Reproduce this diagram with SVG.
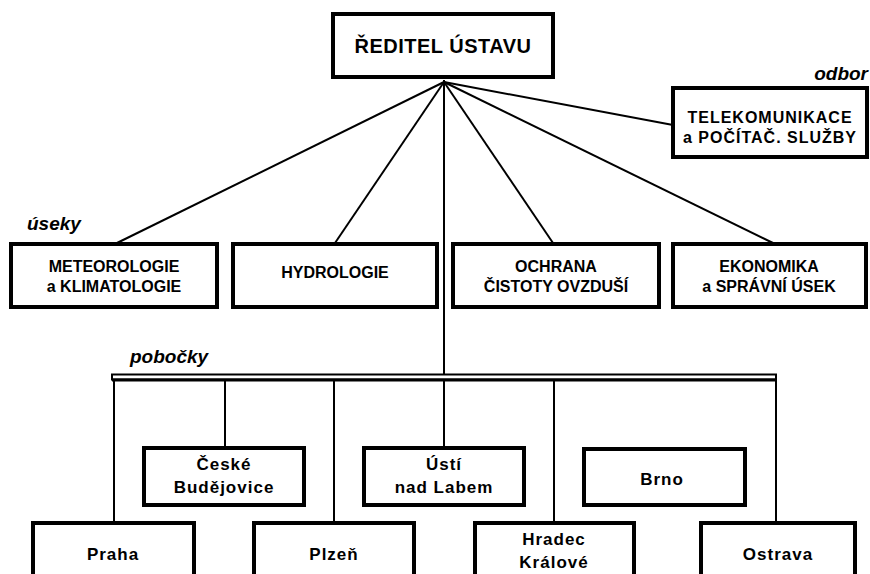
<svg xmlns="http://www.w3.org/2000/svg" width="870" height="574" viewBox="0 0 870 574">
  <style>
    .box { fill: #fff; stroke: #000; stroke-width: 4; }
    .ln { stroke: #000; stroke-width: 2; fill: none; }
    .t { font-family: "Liberation Sans", Arial, sans-serif; font-weight: bold; fill: #000; text-anchor: middle; }
    .head { font-size: 20px; letter-spacing: 0.5px; }
    .sec { font-size: 16px; }
    .wide { letter-spacing: 1px; }
    .br { font-size: 17px; letter-spacing: 1px; }
    .lbl { font-family: "Liberation Sans", Arial, sans-serif; font-weight: bold; font-style: italic; font-size: 19px; fill: #000; }
  </style>
  <rect width="870" height="574" fill="#fff"/>

  <!-- connectors -->
  <g id="connectors">
    <line class="ln" x1="444" y1="82" x2="117" y2="243"/>
    <line class="ln" x1="444" y1="82" x2="335" y2="243"/>
    <line class="ln" x1="444" y1="82" x2="553" y2="243"/>
    <line class="ln" x1="444" y1="82" x2="773" y2="243"/>
    <line class="ln" x1="444" y1="82" x2="673" y2="125"/>
    <line class="ln" x1="444" y1="80" x2="444" y2="447"/>
    <!-- branch bus -->
    <rect x="112" y="374.5" width="664" height="5" fill="#fff" stroke="#000" stroke-width="2"/>
    <line x1="112" y1="380" x2="777" y2="380" stroke="#000" stroke-width="3"/>
    <line class="ln" x1="114" y1="381" x2="114" y2="522"/>
    <line class="ln" x1="225" y1="381" x2="225" y2="447"/>
    <line class="ln" x1="334" y1="381" x2="334" y2="522"/>
    <line class="ln" x1="554" y1="381" x2="554" y2="522"/>
    <line class="ln" x1="776" y1="381" x2="776" y2="522"/>
  </g>

  <g id="reditel">
    <rect class="box" x="333" y="14" width="220" height="63"/>
    <text class="t head" x="443" y="53">ŘEDITEL ÚSTAVU</text>
  </g>

  <text class="lbl" x="868" y="80" text-anchor="end">odbor</text>
  <g id="telekomunikace">
    <rect class="box" x="673" y="88" width="194" height="69"/>
    <text class="t sec wide" x="770" y="123">TELEKOMUNIKACE</text>
    <text class="t sec wide" x="770" y="143">a POČÍTAČ. SLUŽBY</text>
  </g>

  <text class="lbl" x="27" y="230">úseky</text>
  <g id="meteorologie">
    <rect class="box" x="11" y="244" width="206" height="63"/>
    <text class="t sec" x="114" y="272">METEOROLOGIE</text>
    <text class="t sec" x="114" y="292">a KLIMATOLOGIE</text>
  </g>
  <g id="hydrologie">
    <rect class="box" x="233" y="244" width="204" height="63"/>
    <text class="t sec" x="335" y="278">HYDROLOGIE</text>
  </g>
  <g id="ochrana">
    <rect class="box" x="453" y="244" width="206" height="63"/>
    <text class="t sec" x="556" y="272">OCHRANA</text>
    <text class="t sec" x="556" y="292">ČISTOTY OVZDUŠÍ</text>
  </g>
  <g id="ekonomika">
    <rect class="box" x="673" y="244" width="193" height="63"/>
    <text class="t sec" x="769" y="272">EKONOMIKA</text>
    <text class="t sec" x="769" y="292">a SPRÁVNÍ ÚSEK</text>
  </g>

  <text class="lbl" x="130" y="363">pobočky</text>
  <g id="ceske-budejovice">
    <rect class="box" x="144" y="448" width="160" height="57"/>
    <text class="t br" x="224" y="470">České</text>
    <text class="t br" x="224" y="493">Budějovice</text>
  </g>
  <g id="usti">
    <rect class="box" x="364" y="448" width="160" height="57"/>
    <text class="t br" x="444" y="470">Ústí</text>
    <text class="t br" x="444" y="493">nad Labem</text>
  </g>
  <g id="brno">
    <rect class="box" x="584" y="449" width="161" height="56"/>
    <text class="t br" x="662" y="485">Brno</text>
  </g>
  <g id="praha">
    <rect class="box" x="33" y="523" width="161" height="60"/>
    <text class="t br" x="113" y="560">Praha</text>
  </g>
  <g id="plzen">
    <rect class="box" x="254" y="523" width="160" height="60"/>
    <text class="t br" x="334" y="560">Plzeň</text>
  </g>
  <g id="hradec">
    <rect class="box" x="475" y="523" width="159" height="60"/>
    <text class="t br" x="554" y="545">Hradec</text>
    <text class="t br" x="554" y="568">Králové</text>
  </g>
  <g id="ostrava">
    <rect class="box" x="701" y="523" width="154" height="60"/>
    <text class="t br" x="778" y="560">Ostrava</text>
  </g>
</svg>
